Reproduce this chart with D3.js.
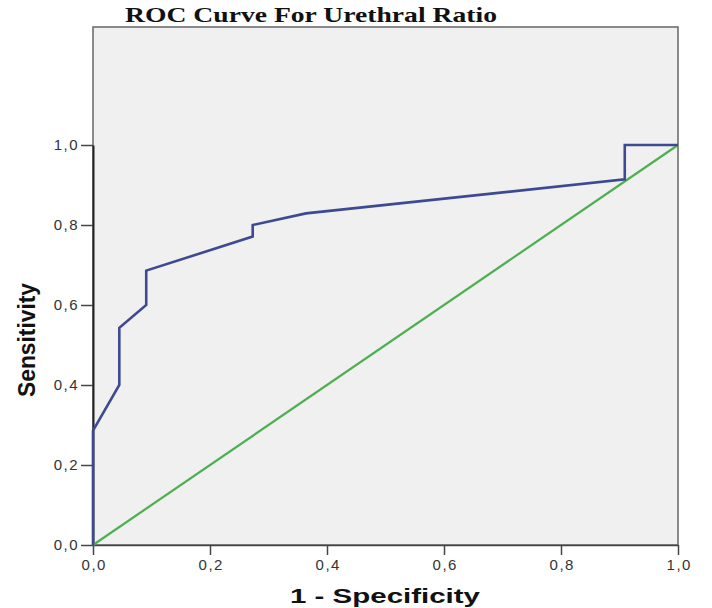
<!DOCTYPE html>
<html>
<head>
<meta charset="utf-8">
<title>ROC Curve For Urethral Ratio</title>
<style>
body { margin: 0; background: #fff; }
svg { display: block; }
.tick text { font-family: Arial, "Liberation Sans", sans-serif; font-size: 15px; fill: #333; letter-spacing: 1.5px; }
</style>
</head>
<body>
<svg></svg>
<script src="https://d3js.org/d3.v7.min.js"></script>
<script>
// ROC curve points (1 - specificity, sensitivity)
const fpr = [0, 0, 0.045, 0.045, 0.091, 0.091, 0.273, 0.273, 0.364, 0.909, 0.909, 1];
const tpr = [0, 0.286, 0.4, 0.543, 0.6, 0.686, 0.771, 0.8, 0.829, 0.914, 1, 1];
const refLine = [0, 1];
const ticks = [0, 0.2, 0.4, 0.6, 0.8, 1];

const width = 712, height = 608;
const margin = { top: 27, right: 34, bottom: 63, left: 93 };

const fmt = d => d3.format('.1f')(d).replace('.', ',');

const svg = d3.select('svg').attr('width', width).attr('height', height);

const x = d3.scaleLinear([0, 1], [margin.left, 678]);
const y = d3.scaleLinear([0, 1], [545, 145]);

// plot background + frame
svg.append('rect')
   .attr('x', margin.left).attr('y', margin.top)
   .attr('width', x(1) - margin.left).attr('height', y(0) - margin.top)
   .attr('fill', '#f0f0f0')
   .attr('stroke', '#666').attr('stroke-width', 1.5);

svg.append('g')
   .attr('transform', `translate(0, ${y(0)})`)
   .call(d3.axisBottom(x).tickValues(ticks).tickFormat(fmt).tickSizeInner(10).tickSizeOuter(0).tickPadding(4))
   .call(g => g.select('.domain').attr('stroke', '#444').attr('stroke-width', 1.5))
   .call(g => g.selectAll('.tick line').attr('stroke', '#444').attr('stroke-width', 1.5))
   .call(g => g.selectAll('.tick text').attr('dx', '0.75px'));

svg.append('g')
   .attr('transform', `translate(${margin.left}, 0)`)
   .call(d3.axisLeft(y).tickValues(ticks).tickFormat(fmt).tickSizeInner(12).tickSizeOuter(0).tickPadding(2))
   .call(g => g.select('.domain').attr('stroke', '#222').attr('stroke-width', 2))
   .call(g => g.selectAll('.tick line').attr('stroke', '#444').attr('stroke-width', 1.5));

// reference diagonal
svg.append('path')
   .attr('fill', 'none')
   .attr('stroke', '#4cb04f')
   .attr('stroke-width', 2.2)
   .attr('d', d3.line().x(d => x(d)).y(d => y(d))(refLine));

// ROC curve
svg.append('path')
   .attr('fill', 'none')
   .attr('stroke', '#3d4a92')
   .attr('stroke-width', 2.6)
   .attr('stroke-linejoin', 'miter')
   .attr('d', d3.line().x((d, i) => x(fpr[i])).y(d => y(d))(tpr));

svg.append('text')
   .text('ROC Curve For Urethral Ratio')
   .attr('x', 125).attr('y', 22)
   .attr('textLength', 372)
   .attr('lengthAdjust', 'spacingAndGlyphs')
   .style('font-family', '"Liberation Serif", "Times New Roman", serif')
   .style('font-weight', 'bold')
   .style('font-size', '22px')
   .attr('fill', '#111');

svg.append('text')
   .text('1 - Specificity')
   .attr('x', 290).attr('y', 603)
   .attr('textLength', 190)
   .attr('lengthAdjust', 'spacingAndGlyphs')
   .style('font-family', 'Arial, "Liberation Sans", sans-serif')
   .style('font-weight', 'bold')
   .style('font-size', '20px')
   .attr('fill', '#111');

// condensed bold axis title, squeezed to the width seen in the picture
svg.append('text')
   .text('Sensitivity')
   .attr('transform', 'translate(35, 397) rotate(-90)')
   .attr('textLength', 114)
   .attr('lengthAdjust', 'spacingAndGlyphs')
   .style('font-family', 'Arial, "Liberation Sans", sans-serif')
   .style('font-weight', 'bold')
   .style('font-size', '24px')
   .attr('fill', '#111');
</script>
</body>
</html>
